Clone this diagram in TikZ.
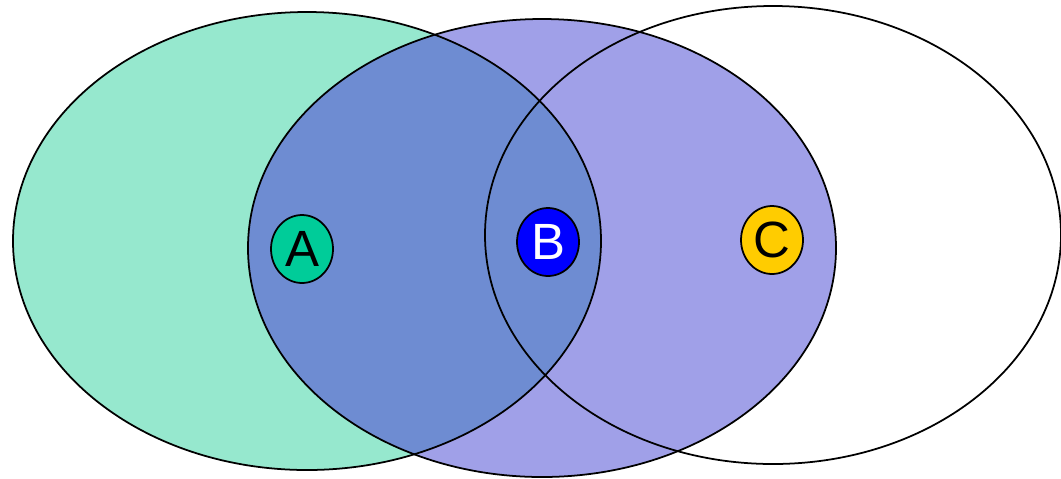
\documentclass[tikz,border=0pt]{standalone}
\usepackage{fontspec}
\setmainfont{Liberation Sans}
\usepackage{tikz}
\usetikzlibrary{shapes.geometric}

\definecolor{tealfill}{RGB}{150,232,206}
\definecolor{violetfill}{RGB}{160,160,232}
\definecolor{overlapfill}{RGB}{110,140,210}
\definecolor{aGreen}{RGB}{0,204,153}
\definecolor{bBlue}{RGB}{0,0,255}
\definecolor{cYellow}{RGB}{255,204,0}

\begin{document}
\begin{tikzpicture}[
    x=0.02cm, y=-0.02cm,
    outline/.style={draw=black, line width=1pt},
    lbl/.style={draw, ellipse, line width=1pt, inner sep=0pt,
        minimum width=1.24cm, minimum height=1.36cm, font=\fontsize{29}{29}\selectfont}
]
    \useasboundingbox (0,0) rectangle (1061,478);

    % fills
    \fill[tealfill] (307,241) ellipse [x radius=294, y radius=229];
    \fill[violetfill] (542,248) ellipse [x radius=294, y radius=229];
    \begin{scope}
        \clip (307,241) ellipse [x radius=294, y radius=229];
        \fill[overlapfill] (542,248) ellipse [x radius=294, y radius=229];
    \end{scope}

    % outlines
    \draw[outline] (307,241) ellipse [x radius=294, y radius=229];
    \draw[outline] (542,248) ellipse [x radius=294, y radius=229];
    \draw[outline] (773,235) ellipse [x radius=288, y radius=229];

    \node[lbl, fill=aGreen] (a) at (302,249) {A};
    \node[lbl, fill=bBlue, text=white] (b) at (548,242) {B};
    \node[lbl, fill=cYellow] (c) at (772,240) {C};
\end{tikzpicture}
\end{document}
